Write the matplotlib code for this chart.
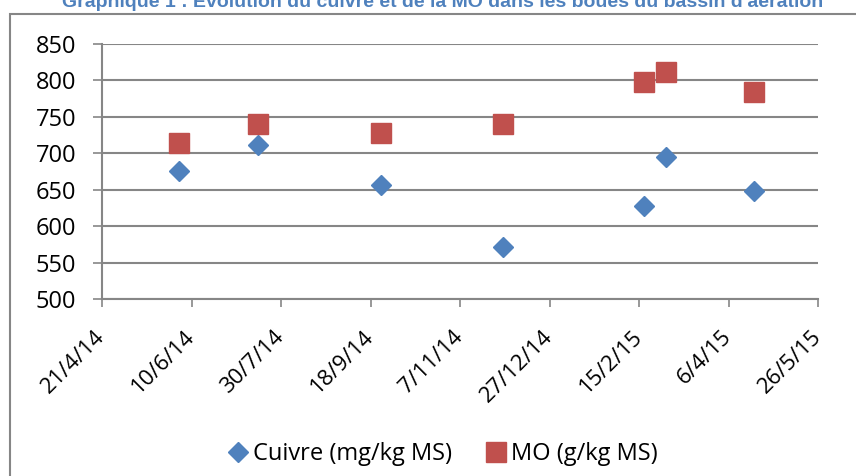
import datetime as dt
import matplotlib
matplotlib.use("Agg")
import matplotlib.pyplot as plt
from matplotlib.patches import Rectangle
from matplotlib.transforms import ScaledTranslation

# sampling dates and measured values
dates = ["2014-06-03", "2014-07-17", "2014-09-24", "2014-12-01",
         "2015-02-18", "2015-03-02", "2015-04-20"]
cuivre = [675, 712, 657, 571, 628, 695, 648]   # mg/kg MS
mo = [714, 740, 728, 740, 798, 811, 784]        # g/kg MS

tick_dates = ["2014-04-21", "2014-06-10", "2014-07-30", "2014-09-18",
              "2014-11-07", "2014-12-27", "2015-02-15", "2015-04-06",
              "2015-05-26"]
tick_labels = ["21/4/14", "10/6/14", "30/7/14", "18/9/14", "7/11/14",
               "27/12/14", "15/2/15", "6/4/15", "26/5/15"]

x = [dt.datetime.strptime(d, "%Y-%m-%d") for d in dates]
xt = [dt.datetime.strptime(d, "%Y-%m-%d") for d in tick_dates]

plt.rcParams['font.family'] = ['Open Sans', 'DejaVu Sans']

W, H = 856, 476
fig = plt.figure(figsize=(W / 100, H / 100), dpi=100)
ax = fig.add_axes([102 / W, 1 - 299 / H, (818 - 102) / W, (299 - 44) / H])

grey = "#868686"
ax.plot(x, cuivre, linestyle="none", marker="D", ms=10.2, color="#4F81BD",
        mec="#4F81BD", label="Cuivre (mg/kg MS)", zorder=3, clip_on=False)
ax.plot(x, mo, linestyle="none", marker="s", ms=14.2, color="#C0504D",
        mec="#C0504D", label="MO (g/kg MS)", zorder=3, clip_on=False)

ax.set_ylim(500, 850)
ax.set_yticks(range(500, 851, 50))
ax.set_xlim(xt[0], xt[-1])
ax.set_xticks(xt)
ax.set_xticklabels(tick_labels, rotation=45, ha="right", va="center",
                   rotation_mode="anchor", fontsize=16)
shift = ScaledTranslation(-2 / 100, 0, fig.dpi_scale_trans)
for lab in ax.get_xticklabels():
    lab.set_transform(lab.get_transform() + shift)

ax.grid(axis="y", color=grey, linewidth=1.5)
ax.set_axisbelow(True)
for s in ["top", "right"]:
    ax.spines[s].set_visible(False)
for s in ["left", "bottom"]:
    ax.spines[s].set_color(grey)
    ax.spines[s].set_linewidth(1.5)
ax.tick_params(axis="both", colors=grey, width=1.2, labelcolor="black")
ax.tick_params(axis="x", length=5.4, pad=19.5)
ax.tick_params(axis="y", length=6.5, pad=12, labelsize=17)

leg = fig.legend(loc="center", bbox_to_anchor=(440 / W, 1 - 454 / H), ncol=2,
                 frameon=False, fontsize=17, handletextpad=0.0,
                 columnspacing=1.2, handlelength=1.3)

# outer chart frame and clipped title
fig.patches.append(Rectangle((10 / W, -0.1), 2, 1 - 14 / H + 0.1,
                             transform=fig.transFigure, fill=False,
                             edgecolor=grey, linewidth=1.5))
fig.text(443 / W, 1 - 7 / H, "Graphique 1 : Évolution du cuivre et de la MO dans "
         "les boues du bassin d'aération", ha="center", va="baseline",
         fontsize=14, fontweight="bold", color="#4F81BD",
         family=["Liberation Sans", "DejaVu Sans"])

fig.savefig("out.png", dpi=100)
